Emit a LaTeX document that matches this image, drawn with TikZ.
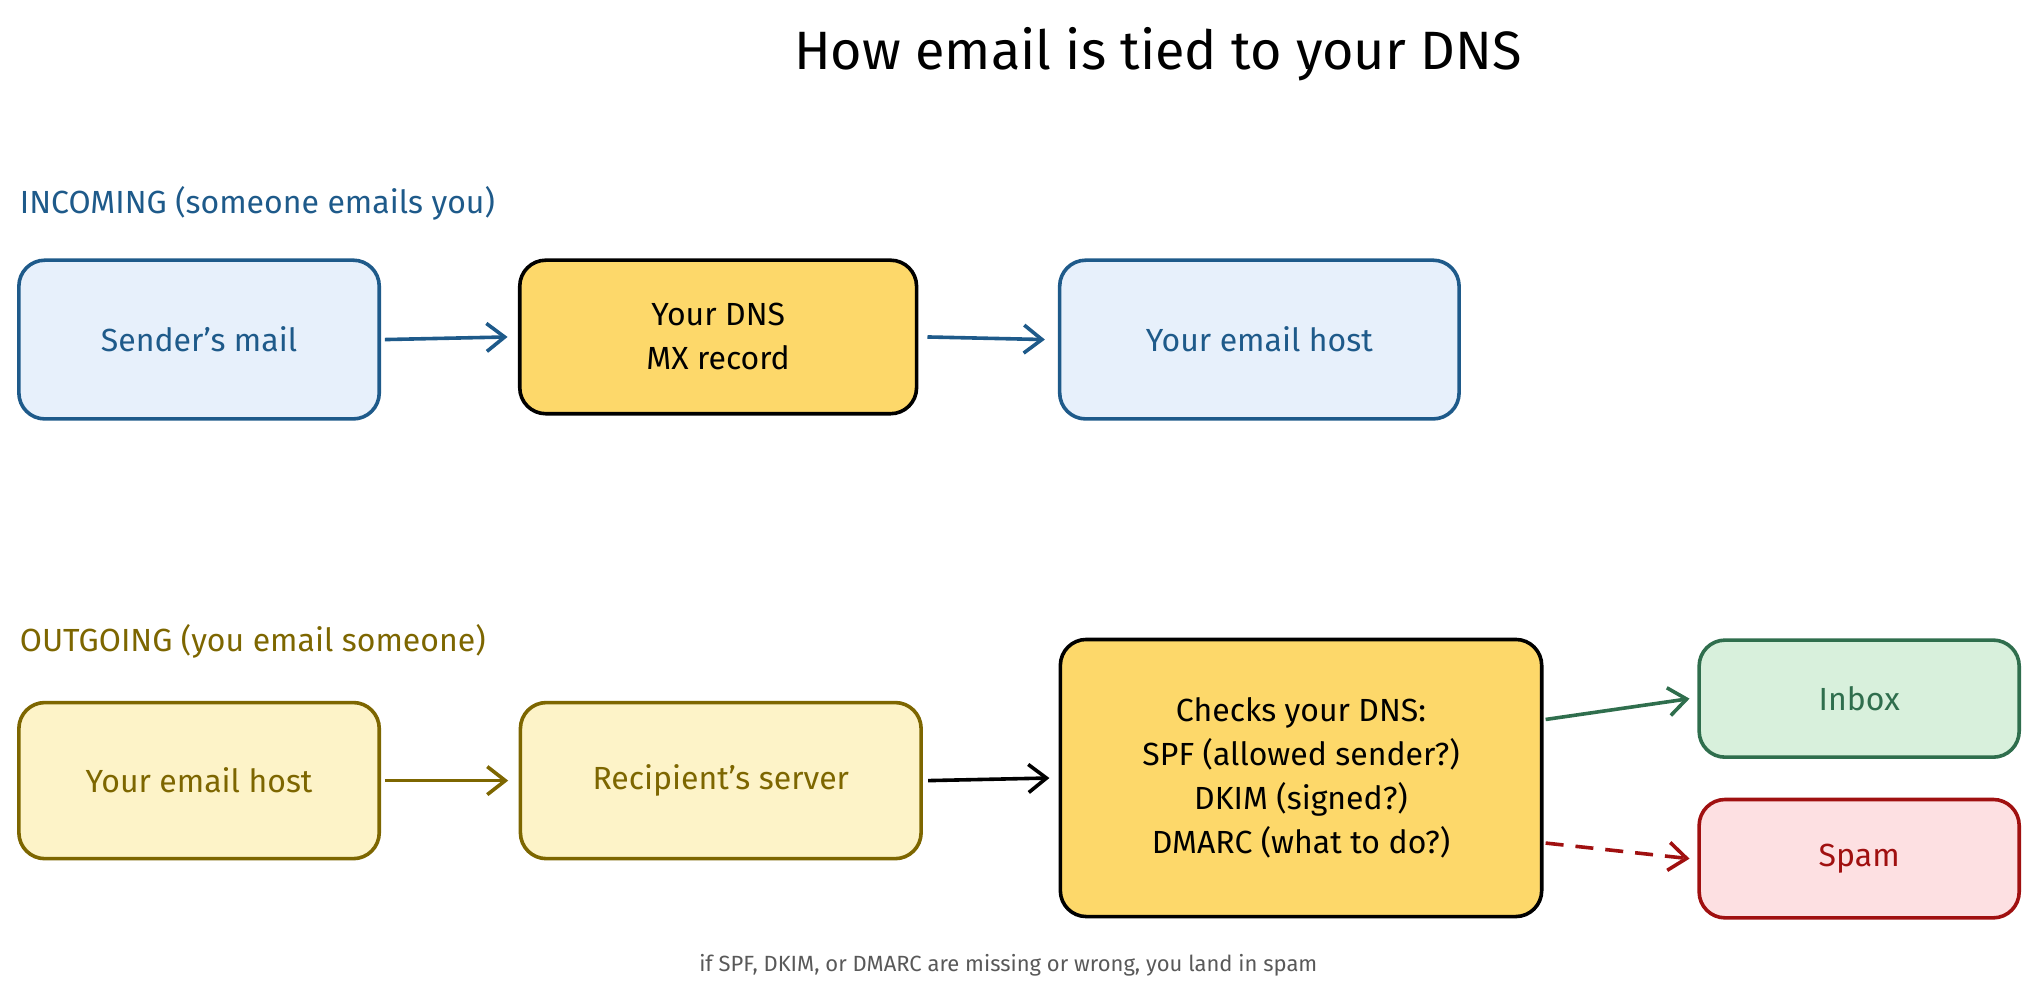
\documentclass[tikz,border=0pt]{standalone}
\usepackage{fontspec}
\setmainfont{Fira Sans}
\usetikzlibrary{arrows.meta}
\definecolor{bstroke}{HTML}{1E5A8A}
\definecolor{bfill}{HTML}{E7F0FB}
\definecolor{yfill}{HTML}{FDD86A}
\definecolor{ofill}{HTML}{FDF3C8}
\definecolor{ostroke}{HTML}{7D6600}
\definecolor{gfill}{HTML}{D8F0DC}
\definecolor{gstroke}{HTML}{2F6E4D}
\definecolor{rfill}{HTML}{FDE0E2}
\definecolor{rstroke}{HTML}{A01010}
\tikzset{
 box/.style={draw, line width=1.8pt, rounded corners=13pt, align=center, font=\fontsize{16}{22}\selectfont, inner sep=0pt},
 conn/.style={line width=1.8pt, -{Straight Barb[length=9pt,width=14pt,line width=1.8pt]}},
}
\begin{document}
\begin{tikzpicture}[x=0.6505pt,y=-0.6505pt]
\useasboundingbox (0,0) rectangle (1568,769);
\node (title) at (890,42) {\fontsize{27}{32}\selectfont How email is tied to your DNS};
\node[anchor=west, text=bstroke, font=\fontsize{16}{20}\selectfont, inner sep=0] (inc) at (15,156) {INCOMING (someone emails you)};
\node[anchor=west, text=ostroke, font=\fontsize{16}{20}\selectfont, inner sep=0] (out) at (15,493) {OUTGOING (you email someone)};
\node[box, draw=bstroke, fill=bfill, text=bstroke, minimum width=277*0.6505pt, minimum height=122*0.6505pt] (s) at (153,261) {Sender's mail};
\node[box, fill=yfill, minimum width=305*0.6505pt, minimum height=118*0.6505pt] (dns) at (552,259) {Your DNS\\MX record};
\node[box, draw=bstroke, fill=bfill, text=bstroke, minimum width=307*0.6505pt, minimum height=122*0.6505pt] (host) at (968,261) {Your email host};
\node[box, draw=ostroke, fill=ofill, text=ostroke, minimum width=277*0.6505pt, minimum height=120*0.6505pt] (oh) at (153,600) {Your email host};
\node[box, draw=ostroke, fill=ofill, text=ostroke, minimum width=308*0.6505pt, minimum height=120*0.6505pt] (rs) at (554,600) {Recipient's server};
\node[box, fill=yfill, minimum width=370*0.6505pt, minimum height=213*0.6505pt] (chk) at (1000,598) {Checks your DNS:\\SPF (allowed sender?)\\DKIM (signed?)\\DMARC (what to do?)};
\node[box, draw=gstroke, fill=gfill, text=gstroke, minimum width=246*0.6505pt, minimum height=90*0.6505pt] (inbox) at (1429,537) {Inbox};
\node[box, draw=rstroke, fill=rfill, text=rstroke, minimum width=246*0.6505pt, minimum height=91*0.6505pt] (spam) at (1429,660) {Spam};
\node[text=black!65, font=\fontsize{11}{14}\selectfont] (note) at (775,742) {if SPF, DKIM, or DMARC are missing or wrong, you land in spam};
\draw[conn, bstroke] (s.east) ++(3,0) -- ([xshift=-8*0.6505pt]dns.west);
\draw[conn, bstroke] (dns.east) ++(7,0) -- ([xshift=-10*0.6505pt]host.west);
\draw[conn, ostroke] (oh.east) ++(3,0) -- ([xshift=-8*0.6505pt]rs.west);
\draw[conn, black] (rs.east) ++(4,0) -- ([xshift=-7*0.6505pt]chk.west);
\coordinate (c1) at (1188,553);
\coordinate (c2) at (1188,648);
\draw[conn, gstroke] (c1) -- ([xshift=-6*0.6505pt]inbox.west);
\draw[conn, rstroke, dashed, dash pattern=on 9pt off 6pt] (c2) -- ([xshift=-6*0.6505pt]spam.west);
\end{tikzpicture}
\end{document}
